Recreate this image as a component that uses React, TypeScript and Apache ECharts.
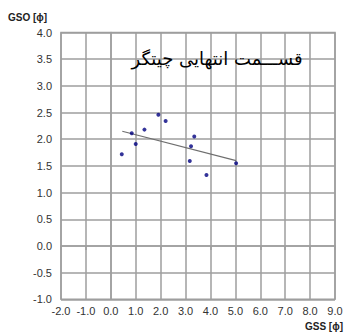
import React, { useEffect, useRef } from "react";
import * as echarts from "echarts";

const gssValues = [0.44, 0.84, 1.0, 1.35, 1.91, 2.2, 3.35, 3.22, 3.17, 3.84, 5.03];
const gsoValues = [1.72, 2.11, 1.91, 2.18, 2.46, 2.34, 2.05, 1.87, 1.59, 1.33, 1.55];
const trendX = [0.46, 5.03];
const trendY = [2.15, 1.6];
const titleText = "قســـمت انتهایی چیتگر";
const xName = "GSS [ϕ]";
const yName = "GSO [ϕ]";

export default function App() {
  const ref = useRef<HTMLDivElement>(null);
  useEffect(() => {
    if (!ref.current) return;
    const chart = echarts.init(ref.current, null, { renderer: "svg" });
    const gridColor = "#9e9e9e";
    const labelStyle = {
      color: "#333",
      fontSize: 11,
      fontFamily: "Liberation Sans, Arial, sans-serif",
    };
    chart.setOption({
      animation: false,
      backgroundColor: "#fff",
      grid: { left: 61, right: 11, top: 32.5, bottom: 34.7, containLabel: false },
      xAxis: {
        type: "value",
        min: -2,
        max: 9,
        interval: 1,
        axisLine: { show: true, lineStyle: { color: gridColor, width: 1.5 } },
        axisTick: { show: true, length: 4, lineStyle: { color: gridColor, width: 1.5 } },
        splitLine: { show: true, lineStyle: { color: gridColor, width: 1.5 } },
        axisLabel: { ...labelStyle, margin: 6, formatter: (v: number) => v.toFixed(1) },
      },
      yAxis: {
        type: "value",
        min: -1,
        max: 4,
        interval: 0.5,
        axisLine: { show: true, lineStyle: { color: gridColor, width: 1.5 } },
        axisTick: { show: false },
        splitLine: { show: true, lineStyle: { color: gridColor, width: 1.5 } },
        axisLabel: { ...labelStyle, margin: 9, formatter: (v: number) => v.toFixed(1) },
      },
      graphic: [
        {
          type: "rect",
          shape: { x: 61, y: 32.5, width: 274, height: 266.8 },
          style: { fill: "none", stroke: gridColor, lineWidth: 1.5 },
          silent: true,
        },
        {
          type: "text",
          x: 8,
          y: 12,
          style: {
            text: yName,
            fontSize: 10,
            fontWeight: "bold",
            fill: "#222",
            fontFamily: "Liberation Sans, Arial, sans-serif",
          },
        },
        {
          type: "text",
          x: 343,
          y: 321,
          style: {
            text: xName,
            fontSize: 10,
            fontWeight: "bold",
            fill: "#222",
            align: "right",
            fontFamily: "Liberation Sans, Arial, sans-serif",
          },
        },
        {
          type: "text",
          x: 217,
          y: 58,
          z: 10,
          style: {
            text: titleText,
            fontSize: 18,
            fill: "#000",
            align: "center",
            verticalAlign: "middle",
            fontFamily: "DejaVu Sans, Noto Sans, sans-serif",
          },
        },
      ],
      series: [
        {
          type: "line",
          data: trendX.map((x, i) => [x, trendY[i]]),
          showSymbol: false,
          symbol: "none",
          lineStyle: { color: "#6e6e6e", width: 1.2 },
          z: 2,
        },
        {
          type: "scatter",
          data: gssValues.map((x, i) => [x, gsoValues[i]]),
          symbol: "circle",
          symbolSize: 4,
          itemStyle: { color: "#000080" },
          z: 3,
        },
      ],
    });
    return () => chart.dispose();
  }, []);
  return <div ref={ref} style={{ width: 346, height: 334, position: "absolute", left: 0, top: 0 }} />;
}
